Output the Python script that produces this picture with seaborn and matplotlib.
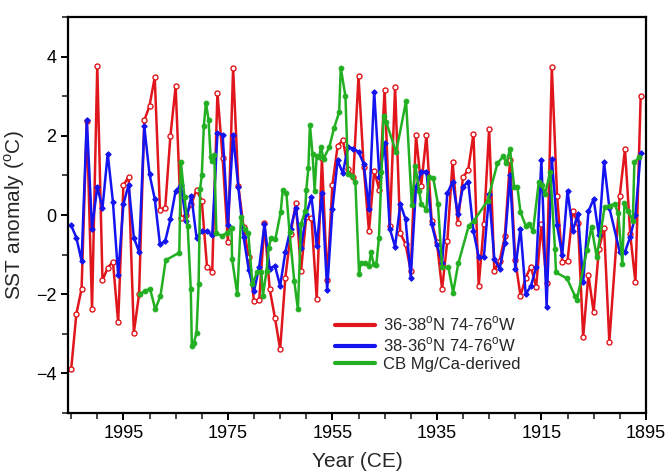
import numpy as np
import pandas as pd
import matplotlib
matplotlib.use("Agg")
import matplotlib.pyplot as plt
from matplotlib.lines import Line2D
from matplotlib.ticker import MultipleLocator
import seaborn as sns

# ---------------- data ----------------
red_years = list(range(2005, 1901, -1)) + [1900, 1899, 1898, 1897, 1896]
red_vals = [
    -3.9, -2.5, -1.86, 2.37, -2.38, 3.77, -1.65, -1.33, -1.18, -2.71,
    0.75, 0.97, -2.97, -2.0, 2.39, 2.76, 3.48, 0.14, 0.18, 2.0,
    3.25, -0.07, 0.0, 0.28, 0.64, 0.36, -1.3, -1.43, 3.09, 1.43,
    -0.68, 3.72, 0.74, -0.31, -1.07, -2.17, -2.15, -0.21, -1.87, -2.59,
    -3.39, -1.58, -0.48, 0.3, -1.41, -0.04, -0.08, -2.11, 1.44, -1.65,
    0.76, 1.74, 1.9, 1.16, 0.95, 3.51, 1.21, -0.41, 1.11, 0.63,
    3.17, -0.27, 3.23, -0.46, -0.73, -1.41, 2.01, 0.74, 2.02, -0.16,
    -0.69, -1.87, -0.65, 1.33, -0.19, 0.95, 1.15, 2.05, -1.79, -0.23,
    2.18, -1.41, -1.16, -0.54, 1.38, -1.14, -2.04, -1.58, -1.3, -1.82,
    -0.23, -1.72, 3.74, 0.49, -1.18, -1.16, 0.09, -0.19, -3.08, -1.51,
    -2.45, -0.86, -0.33, -3.2, 0.49, 1.67, -0.48, -1.7, 3.0,
]

blue_years = red_years
blue_vals = [
    -0.26, -0.57, -1.16, 2.41, -0.34, 0.71, 0.18, 1.55, 0.33, -1.52,
    0.27, 0.77, -0.57, -0.93, 2.24, 1.03, 0.41, -0.74, -0.66, -0.11,
    0.61, 0.76, -0.14, 0.49, -0.57, -0.41, -0.41, -0.51, 2.07, 2.03,
    -0.24, 2.03, 0.7, -0.55, -1.39, -1.92, -1.31, -0.23, -1.35, -1.28,
    -1.79, -0.93, -0.34, 0.19, -0.82, 0.03, 0.46, -0.78, 0.56, -1.89,
    0.15, 1.38, 1.06, 1.73, 1.67, 1.6, 1.29, 0.15, 3.12, 0.95,
    1.82, -0.35, -0.8, 0.28, -0.1, -1.58, 0.7, 1.1, 1.1, -0.23,
    -0.75, -1.2, 0.55, 0.84, 0.03, 0.72, 0.84, -0.4, -1.07, -1.05,
    0.53, -1.11, -1.36, -0.71, 1.0, -1.36, -0.34, -2.0, -1.79, -1.32,
    1.39, -2.32, 1.41, -0.26, -1.01, 0.62, -0.4, 0.03, -1.7, 0.09,
    0.41, -0.51, 1.33, 0.19, -0.93, -0.93, -0.55, 0.0, 1.56,
]

green_years = [
    1991.9, 1990.9, 1989.9, 1988.9, 1987.9, 1986.9, 1984.3, 1984.0,
    1983.3, 1982.7, 1982.1, 1981.9, 1981.5, 1981.0, 1980.6, 1980.3, 1980.0,
    1979.6, 1979.2, 1978.7, 1978.3, 1978.0, 1977.6, 1977.2, 1976.2, 1975.2,
    1974.3, 1974.2, 1973.2, 1972.5, 1971.8, 1971.1, 1970.3, 1969.4, 1968.6,
    1968.3, 1967.6, 1967.2, 1966.7, 1965.9, 1964.9, 1964.5, 1963.8, 1963.2,
    1962.3, 1961.6, 1961.0, 1960.2, 1960.0, 1959.6, 1959.3, 1958.8, 1958.4,
    1958.0, 1957.5, 1957.2, 1956.7, 1955.6, 1954.7, 1953.7, 1953.4, 1952.5,
    1952.0, 1951.2, 1950.6, 1949.9, 1949.6, 1948.7, 1948.0, 1947.6, 1947.1,
    1946.6, 1946.1, 1945.6, 1945.2, 1944.7, 1942.8, 1940.9, 1939.8, 1939.1,
    1938.4, 1938.0, 1937.0, 1936.6, 1935.7, 1934.8, 1934.0, 1932.8, 1931.9,
    1930.9, 1928.9, 1927.9, 1925.3, 1923.4, 1922.3, 1921.7, 1921.0, 1920.2,
    1919.6, 1919.0, 1918.0, 1917.4, 1916.6, 1915.5, 1914.9, 1914.3, 1913.3,
    1912.4, 1912.2, 1910.1, 1908.6, 1908.2, 1906.3, 1905.4, 1904.4, 1902.9,
    1901.9, 1901.0, 1900.3, 1899.5, 1899.1, 1898.4, 1897.5, 1897.2, 1896.3,
]
green_vals = [
    -2.0, -1.92, -1.86, -2.38, -2.04, -1.14, -0.95, 1.34,
    0.45, -0.27, -1.87, -3.3, -3.22, -2.97, -1.73, 0.67, 1.0,
    2.26, 2.84, 2.41, 1.46, 1.36, 1.52, -0.46, -0.52, -0.46,
    -0.33, -1.11, -2.0, -0.06, -0.35, -0.46, -1.75, -1.43, -1.43,
    -2.04, -1.41, -0.82, -0.57, -0.6, 0.07, 0.64, 0.55, -0.44,
    -1.66, -2.38, -0.23, 0.11, 0.63, 1.18, 2.28, 1.54, 0.62,
    1.5, 1.46, 1.73, 1.42, 1.71, 2.19, 2.6, 3.72, 3.0,
    1.04, 0.99, 0.83, -1.48, -1.2, -1.22, -1.28, -0.94, -1.24,
    -1.26, -0.59, 1.08, 2.51, 2.35, 1.59, 2.88, 0.26, 1.23,
    0.62, 0.28, 0.14, 0.95, 0.94, 0.28, -1.32, -1.32, -1.96,
    -1.22, -0.27, -0.14, 0.36, 1.31, 1.48, 1.31, 1.67, 0.7,
    0.72, 0.07, -0.27, -0.23, -0.4, 0.83, 0.77, 0.53, 1.1,
    -0.86, -1.45, -1.6, -2.04, -2.15, -0.89, -0.3, -1.07, 0.2,
    0.24, 0.28, 0.05, -1.24, 0.3, 0.09, -0.14, 1.33, 1.46,
]

series_labels = ["36-38$^{\\mathrm{o}}$N 74-76$^{\\mathrm{o}}$W",
                 "38-36$^{\\mathrm{o}}$N 74-76$^{\\mathrm{o}}$W",
                 "CB Mg/Ca-derived"]
x_ticks = [1995, 1975, 1955, 1935, 1915, 1895]
y_ticks = [-4, -2, 0, 2, 4]

# ---------------- style ----------------
sns.set_theme(style="ticks")
plt.rcParams["font.family"] = ["Liberation Sans", "DejaVu Sans"]
plt.rcParams["mathtext.fontset"] = "custom"
plt.rcParams["mathtext.rm"] = "Liberation Sans"

RED = "#e0161c"
BLUE = "#1414f0"
GREEN = "#22b022"

fig = plt.figure(figsize=(6.7, 4.75), dpi=100)
ax = fig.add_axes([0.1015, 0.1305, 0.8625, 0.8335])

red_df = pd.DataFrame({"year": red_years, "sst": red_vals})
blue_df = pd.DataFrame({"year": blue_years, "sst": blue_vals})
green_df = pd.DataFrame({"year": green_years, "sst": green_vals})

sns.lineplot(data=red_df, x="year", y="sst", ax=ax, sort=False, estimator=None,
             color=RED, lw=1.8, marker="o", markersize=3.6,
             markerfacecolor="white", markeredgecolor=RED, markeredgewidth=1.0)
sns.lineplot(data=blue_df, x="year", y="sst", ax=ax, sort=False, estimator=None,
             color=BLUE, lw=1.8, marker="D", markersize=2.8,
             markerfacecolor=BLUE, markeredgecolor=BLUE)
sns.lineplot(data=green_df, x="year", y="sst", ax=ax, sort=False, estimator=None,
             color=GREEN, lw=1.8, marker="o", markersize=3.4,
             markerfacecolor=GREEN, markeredgecolor=GREEN)

ax.set_xlim(2005.6, 1895)
ax.set_ylim(-5, 5)
ax.set_xticks(x_ticks)
ax.set_yticks(y_ticks)
ax.xaxis.set_minor_locator(MultipleLocator(5))
ax.yaxis.set_minor_locator(MultipleLocator(1))
ax.tick_params(axis="both", which="major", direction="out", length=5, width=1.4,
               labelsize=13, colors="black")
ax.tick_params(axis="both", which="minor", direction="out", length=4, width=1.2)
for s in ax.spines.values():
    s.set_linewidth(1.6)
    s.set_color("black")

ax.set_xlabel("Year (CE)", fontsize=15, labelpad=7)
ax.set_ylabel("SST anomaly ($^{\\mathrm{o}}$C)", fontsize=15, labelpad=6)

handles = [Line2D([0], [0], color=c, lw=3) for c in (RED, BLUE, GREEN)]
ax.legend(handles, series_labels, loc="upper left", bbox_to_anchor=(0.45, 0.265),
          frameon=False, fontsize=12, handlelength=2.4, handletextpad=0.5,
          labelspacing=0.15, borderaxespad=0)

fig.savefig("out.png", dpi=100)
